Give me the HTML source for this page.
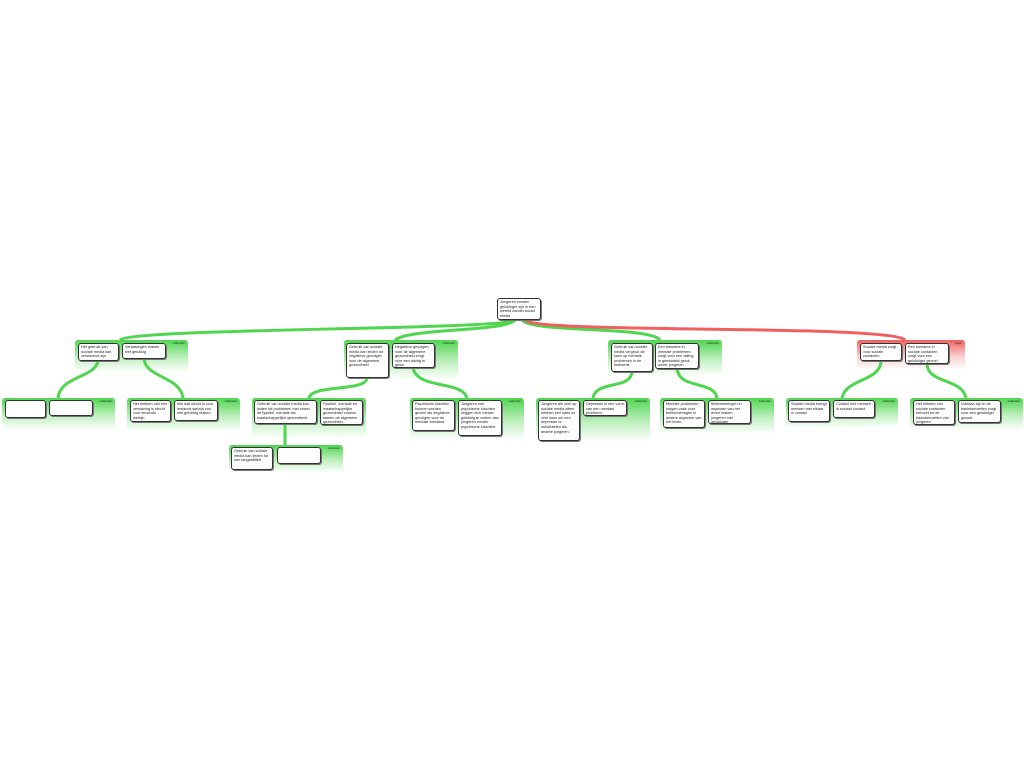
<!DOCTYPE html>
<html><head><meta charset="utf-8"><style>
body{margin:0;width:1024px;height:768px;background:#fff;position:relative;overflow:hidden;font-family:"Liberation Sans",sans-serif}
.g{position:absolute;z-index:0;background:linear-gradient(#4fd64f 0px,#bff0bf 55%,#fff 100%);border-top-left-radius:3px;border-top-right-radius:3px}
.g.r{background:linear-gradient(#f06060 0px,#fbd0d0 55%,#fff 100%)}
.g i{position:absolute;right:3px;top:2px;font-size:2.6px;font-style:normal;color:#222}
.n{position:absolute;z-index:2;background:#fff;border:1.3px solid #333;border-radius:3px;box-sizing:border-box;font-size:3.8px;line-height:4.6px;padding:1px 2px;color:#222;overflow:hidden;box-shadow:1px 1px 0 #777}
svg{position:absolute;left:0;top:0;z-index:1}
</style></head><body>
<svg width="1024" height="768">
<g fill="none" stroke="#4fd64f" stroke-width="3">
<path d="M515 320 C505 330 130 328 120 340"/>
<path d="M515 320 C505 332 410 328 395 340"/>
<path d="M522 320 C530 333 650 326 660 340"/>
<path d="M98 361 C95 378 60 376 58 398"/>
<path d="M144 359 C146 378 180 376 183 398"/>
<path d="M367 378 C366 392 312 384 309 398"/>
<path d="M413 368 C418 390 462 380 467 398"/>
<path d="M632 372 C630 390 596 380 593 398"/>
<path d="M677 369 C680 390 714 380 717 398"/>
<path d="M881 361 C880 382 846 378 842 398"/>
<path d="M927 364 C928 384 962 378 966 398"/>
<path d="M285 424 L285 445"/>
</g>
<path d="M525 320 C535 334 890 324 905 340" fill="none" stroke="#f06060" stroke-width="3"/>
</svg>

<div class="n" style="left:497px;top:298px;width:44px;height:22px">Jongeren zouden gelukkiger zijn in een wereld zonder social media</div>

<div class="g" style="left:75px;top:340px;width:113px;height:32px"><i>onderwerp</i></div>
<div class="n" style="left:78px;top:343px;width:41px;height:18px">Het gebruik van sociale media kan verslavend zijn</div>
<div class="n" style="left:122px;top:343px;width:44px;height:16px">Verslavingen maken niet gelukkig</div>

<div class="g" style="left:344px;top:340px;width:114px;height:40px"><i>onderwerp</i></div>
<div class="n" style="left:346px;top:343px;width:43px;height:35px">Gebruik van sociale media kan leiden tot negatieve gevolgen voor de algemene gezondheid</div>
<div class="n" style="left:392px;top:343px;width:43px;height:25px">Negatieve gevolgen voor de algemene gezondheid zorgt voor een daling in geluk</div>

<div class="g" style="left:608px;top:340px;width:114px;height:36px"><i>onderwerp</i></div>
<div class="n" style="left:611px;top:343px;width:42px;height:29px">Gebruik van sociale media vergroot de kans op mentale problemen in de toekomst</div>
<div class="n" style="left:655px;top:343px;width:44px;height:26px">Een toename in mentale problemen zorgt voor een daling in gemiddeld geluk onder jongeren</div>

<div class="g r" style="left:857px;top:340px;width:108px;height:30px"><i>tegen</i></div>
<div class="n" style="left:860px;top:343px;width:42px;height:18px">Sociale media zorgt voor sociale contacten</div>
<div class="n" style="left:905px;top:343px;width:44px;height:21px">Een toename in sociale contacten zorgt voor een gelukkiger gevoel</div>

<div class="g" style="left:2px;top:398px;width:113px;height:32px"><i>onderwerp</i></div>
<div class="n" style="left:5px;top:400px;width:41px;height:18px"></div>
<div class="n" style="left:49px;top:400px;width:44px;height:16px"></div>

<div class="g" style="left:127px;top:398px;width:113px;height:34px"><i>onderwerp</i></div>
<div class="n" style="left:130px;top:400px;width:41px;height:22px">Het hebben van een verslaving is slecht voor iemands welzijn.</div>
<div class="n" style="left:174px;top:400px;width:44px;height:21px">Iets wat slecht is voor iemands welzijn zou niet gelukkig maken</div>

<div class="g" style="left:252px;top:398px;width:114px;height:40px"><i>onderwerp</i></div>
<div class="n" style="left:254px;top:400px;width:63px;height:24px">Gebruik van sociale media kan leiden tot problemen met zowel de fysieke, mentale als maatschappelijke gezondheid.</div>
<div class="n" style="left:320px;top:400px;width:43px;height:25px">Fysieke, mentale en maatschappelijke gezondheid vormen samen de algemene gezondheid.</div>

<div class="g" style="left:410px;top:398px;width:114px;height:42px"><i>onderwerp</i></div>
<div class="n" style="left:412px;top:400px;width:43px;height:31px">Psychische klachten kunnen worden gezien als negatieve gevolgen voor de mentale toestand.</div>
<div class="n" style="left:458px;top:400px;width:44px;height:36px">Jongeren met psychische klachten zeggen zich minder gelukkig te voelen dan jongeren zonder psychische klachten.</div>

<div class="g" style="left:536px;top:398px;width:114px;height:44px"><i>onderwerp</i></div>
<div class="n" style="left:538px;top:400px;width:42px;height:41px">Jongeren die veel op sociale media zitten hebben een kans zo veel kans om een depressie te ontwikkelen als andere jongeren.</div>
<div class="n" style="left:583px;top:400px;width:44px;height:16px">Depressie is een vorm van een mentaal probleem.</div>

<div class="g" style="left:660px;top:398px;width:114px;height:36px"><i>onderwerp</i></div>
<div class="n" style="left:663px;top:400px;width:42px;height:28px">Mentale problemen zorgen vaak voor belemmeringen in andere aspecten van het leven.</div>
<div class="n" style="left:708px;top:400px;width:43px;height:24px">Belemmeringen in aspecten van het leven maken jongeren niet gelukkiger</div>

<div class="g" style="left:786px;top:398px;width:112px;height:30px"><i>onderwerp</i></div>
<div class="n" style="left:788px;top:400px;width:42px;height:22px">Sociale media brengt mensen met elkaar in contact</div>
<div class="n" style="left:833px;top:400px;width:42px;height:18px">Contact met mensen is sociaal contact</div>

<div class="g" style="left:910px;top:398px;width:113px;height:32px"><i>onderwerp</i></div>
<div class="n" style="left:913px;top:400px;width:42px;height:25px">Het hebben van sociale contacten behoort tot de basisbehoeften van jongeren</div>
<div class="n" style="left:958px;top:400px;width:43px;height:23px">Voldaan zijn in de basisbehoeften zorgt voor een gelukkiger gevoel.</div>

<div class="g" style="left:229px;top:445px;width:114px;height:28px"><i>onderwerp</i></div>
<div class="n" style="left:231px;top:447px;width:42px;height:23px">Gebruik van sociale media kan leiden tot een langeaftiteit</div>
<div class="n" style="left:277px;top:447px;width:44px;height:17px"></div>
</body></html>
